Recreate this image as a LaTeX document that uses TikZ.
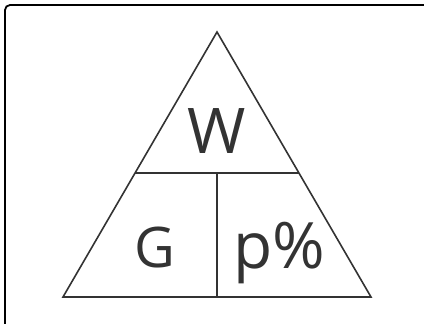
\documentclass[tikz,border=0pt]{standalone}
\usepackage{fontspec}
\setmainfont{Open Sans}
\usepackage{xcolor}
\usetikzlibrary{calc}
\definecolor{lineGray}{HTML}{333333}

\begin{document}
\begin{tikzpicture}[x=1pt, y=-1pt,
    edge/.style={draw=lineGray, line width=1.6pt, line join=miter},
    lbl/.style={anchor=base, inner sep=0pt, text=lineGray}]
    \useasboundingbox (0,0) rectangle (424,324);
    \clip (0,0) rectangle (424,324);
    % outer frame
    \draw[line width=1.8pt, rounded corners=5pt] (5,5) rectangle (440,340);
    % triangle corners
    \coordinate (apex) at (217,32);
    \coordinate (bl) at (63,297);
    \coordinate (br) at (371,297);
    \coordinate (ml) at ($(apex)!0.532!(bl)$);
    \coordinate (mr) at ($(apex)!0.532!(br)$);
    \coordinate (mtop) at ($(ml)!0.5!(mr)$);
    \coordinate (mbot) at ($(bl)!0.5!(br)$);
    \draw[edge] (apex) -- (bl) -- (br) -- cycle;
    \draw[edge] (ml) -- (mr);
    \draw[edge] (mtop) -- (mbot);
    % labels
    \node[lbl, font=\fontsize{63}{63}\selectfont] (w) at (217,153) {W};
    \node[lbl, font=\fontsize{56}{56}\selectfont] (g) at (155,267) {G};
    \node[lbl, font=\fontsize{64}{64}\selectfont] (p) at (279,268) {p\%};
\end{tikzpicture}
\end{document}
